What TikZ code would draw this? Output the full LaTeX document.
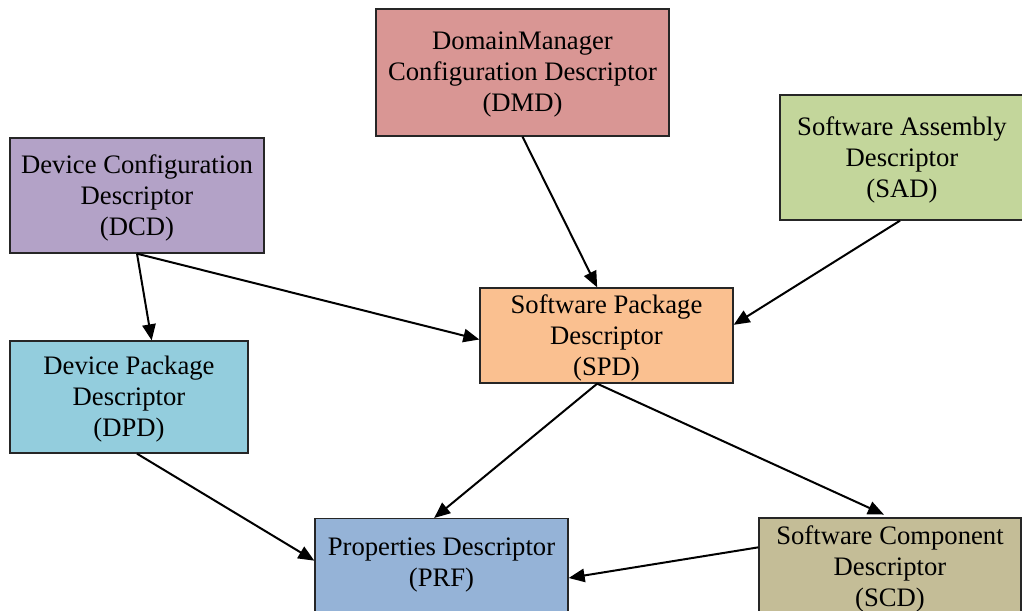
\documentclass[tikz,border=0pt]{standalone}
\usepackage{fontspec}
\setmainfont{Liberation Serif}
\usetikzlibrary{arrows.meta,positioning}
\definecolor{dmdcol}{HTML}{D99694}
\definecolor{sadcol}{HTML}{C3D69B}
\definecolor{dcdcol}{HTML}{B3A2C7}
\definecolor{spdcol}{HTML}{FAC090}
\definecolor{dpdcol}{HTML}{93CDDD}
\definecolor{prfcol}{HTML}{95B3D7}
\definecolor{scdcol}{HTML}{C4BD97}
\tikzset{
	%Define style for descriptor boxes
	descbox/.style={
		rectangle,
		draw=black!85, line width=1pt,
		align=center,
		inner sep=0pt,
		font=\fontsize{20}{23.25}\selectfont},
	%Define style for box text only
	desctext/.style={
		align=center,
		inner sep=0pt,
		font=\fontsize{20}{23.25}\selectfont},
	% Define arrow style
	link/.style={
		-{Triangle[length=12pt,width=10pt]},
		line width=1.5pt}
}
\begin{document}
\begin{tikzpicture}[x=0.75pt, y=-0.75pt]
	
	\useasboundingbox (0,0) rectangle (1022,611);
	
	\node[descbox, fill=dmdcol, minimum width=219.75pt, minimum height=95.25pt] (dmd) at (522.5,72.5) {};
	\node[desctext] (dmdtext) at (522.5,75) {DomainManager\\Configuration Descriptor\\(DMD)};
	\node[descbox, fill=sadcol, minimum width=192pt, minimum height=93.75pt] (sad) at (908,157.5) {};
	\node[desctext] (sadtext) at (902,160) {Software Assembly\\Descriptor\\(SAD)};
	\node[descbox, fill=dcdcol, minimum width=190.5pt, minimum height=86.25pt] (dcd) at (137,195.5) {};
	\node[desctext] (dcdtext) at (137,198) {Device Configuration\\Descriptor\\(DCD)};
	\node[descbox, fill=spdcol, minimum width=189.75pt, minimum height=71.25pt] (spd) at (606.5,335.5) {};
	\node[desctext] (spdtext) at (606.5,338) {Software Package\\Descriptor\\(SPD)};
	\node[descbox, fill=dpdcol, minimum width=178.5pt, minimum height=84pt] (dpd) at (129,397) {};
	\node[desctext] (dpdtext) at (129,399) {Device Package\\Descriptor\\(DPD)};
	\node[descbox, fill=prfcol, minimum width=189.75pt, minimum height=84pt, anchor=north] (prf) at (441.5,518) {};
	\node[desctext] (prftext) at (441.5,565) {Properties Descriptor\\(PRF)};
	\node[descbox, fill=scdcol, minimum width=196.5pt, minimum height=73.5pt] (scd) at (890,567) {};
	\node[desctext] (scdtext) at (890,569) {Software Component\\Descriptor\\(SCD)};
	
	\path[link]
	(dmd.south) edge ([xshift=-7pt]spd.north)
	([xshift=-6pt]sad.south) edge ([yshift=8pt]spd.east)
	(dcd.south) edge ([xshift=17pt]dpd.north)
	(dcd.south) edge ([yshift=-3pt]spd.west)
	([xshift=6pt]dpd.south) edge ([yshift=-32pt]prf.north west)
	([xshift=-7pt]spd.south) edge ([xshift=-5.5pt]prf.north)
	([xshift=-7pt]spd.south) edge [shorten >=5pt] (scd.north)
	([yshift=-22.5pt]scd.north west) edge ([yshift=-45pt]prf.north east);
	
\end{tikzpicture}
\end{document}
